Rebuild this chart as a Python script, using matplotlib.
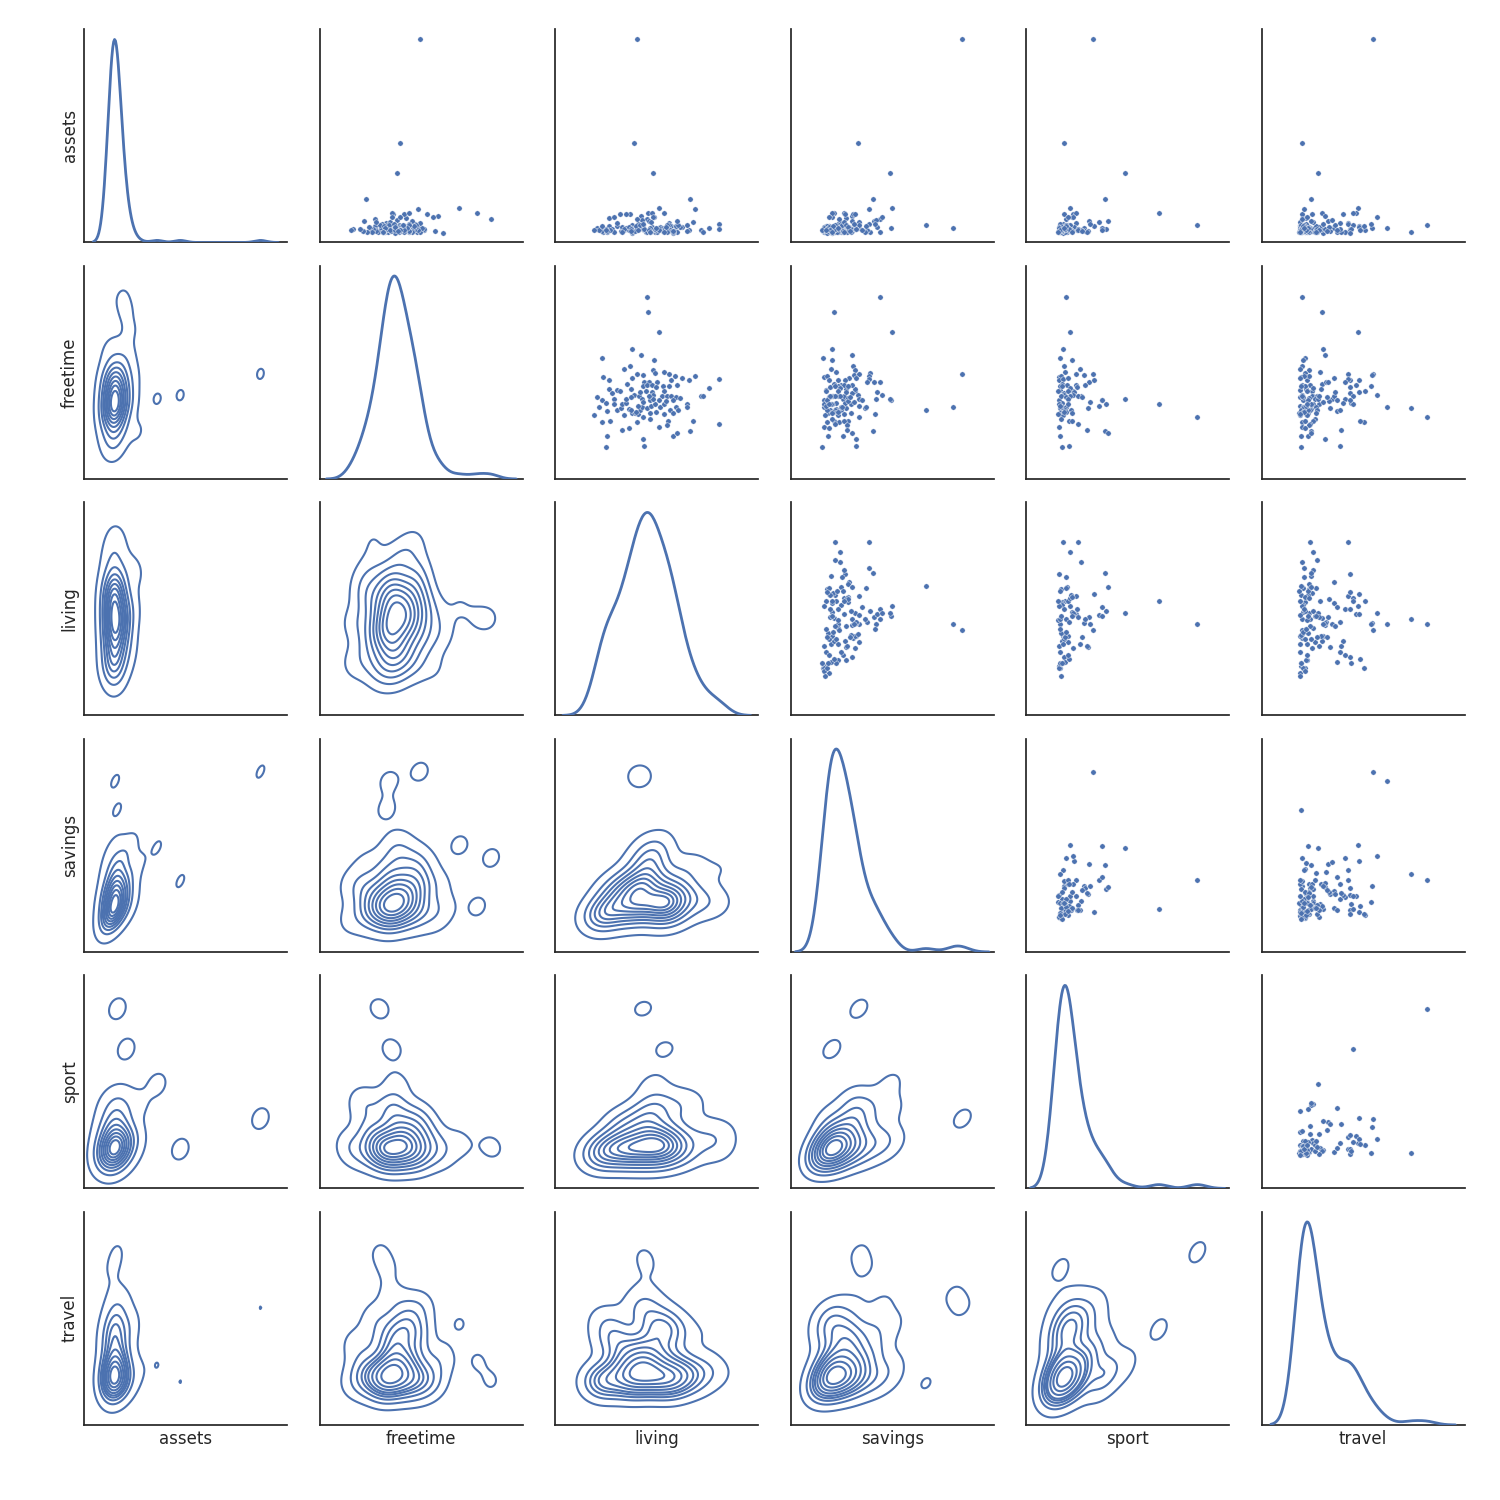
import numpy as np
import pandas as pd
import matplotlib
matplotlib.use("Agg")
import matplotlib.pyplot as plt
import seaborn as sns

nan = np.nan

# values, in % of the axis span
living = [45.5, 46.0, 51.4, 37.6, 42.5, 22.8, 48.9, 36.6, 34.0, 48.4,
          23.3, 26.4, 40.1, 43.5, 49.1, 53.7, 56.3, 59.3, 62.7, 66.2,
          69.1, 81.4, 37.6, 35.1, 44.0, 46.3, 50.1, 57.3, 60.3, 26.3,
          30.2, 31.7, 27.8, 37.4, 43.3, 45.5, 47.8, 49.9, 53.2, 56.5,
          76.5, 20.4, 22.8, 28.7, 38.6, 41.1, 42.9, 44.8, 47.6, 48.3,
          53.9, 52.9, 55.3, 57.5, 59.8, 61.7, 72.2, 73.1, 24.8, 21.3,
          25.3, 30.2, 32.2, 32.7, 35.0, 34.6, 36.1, 37.8, 39.1, 40.7,
          42.0, 43.0, 45.5, 47.3, 49.3, 51.9, 54.0, 56.7, 58.1, 58.3,
          59.8, 60.9, 65.5, 65.2, 18.9, 33.7, 22.8, 26.8, 40.1, 43.3,
          47.0, 55.8, 68.1, 81.4, 51.4, 55.3, 36.1, 32.8, 66.7, 25.1,
          58.3, 60.3, 43.5, 44.0, 24.8, 37.1, 39.6, 46.6, 48.3, 42.0,
          46.3, 43.3, 40.9, 51.2, 54.8, 49.9, 47.0, 54.0, 28.6, 37.1]

freetime = [84.7, 77.6, 68.6, 60.5, 57.8, 56.2, 55.3, 52.4, 51.0, 50.6,
            47.2, 45.8, 48.7, 48.2, 49.0, 49.6, 48.8, 47.7, 46.8, 45.8,
            47.7, 46.3, 46.8, 43.9, 44.9, 44.7, 44.9, 45.8, 43.4, 41.5,
            41.1, 40.6, 39.7, 41.5, 43.0, 43.3, 43.4, 42.5, 43.0, 43.0,
            42.0, 37.8, 36.3, 36.8, 38.7, 38.1, 37.0, 40.6, 40.4, 38.7,
            40.6, 38.2, 38.2, 38.1, 37.8, 37.3, 38.2, 38.2, 34.9, 33.0,
            31.1, 31.8, 32.7, 34.4, 34.9, 36.8, 32.1, 30.3, 30.2, 29.7,
            31.8, 33.0, 32.5, 33.6, 34.6, 33.3, 34.4, 31.8, 36.2, 30.3,
            33.0, 31.9, 34.3, 33.0, 29.2, 29.2, 25.9, 26.4, 25.9, 28.3,
            27.3, 26.4, 26.4, 25.0, 23.5, 24.5, 23.1, 22.1, 21.6, 19.7,
            19.7, 20.7, 18.3, 15.0, 14.1, 31.9, 30.6, 36.2, 37.0, 40.1,
            38.5, 35.4, 33.8, 36.2, 35.9, 31.0, 30.3, 29.9, 34.6, 37.8]

savings = [44.0, 21.3, 50.0, 20.2, 30.2, 16.0, 20.4, 30.7, 19.7, 31.7,
           16.3, 23.2, 84.4, 31.0, 39.0, 22.3, 33.7, 17.9, 28.7, 26.8,
           38.4, 38.6, 32.0, 21.5, 37.6, 41.0, 44.0, 18.7, 24.8, 27.3,
           17.2, 31.7, 30.0, 31.7, 23.2, 30.0, 26.0, 19.5, 28.0, 22.0,
           24.0, 18.7, 16.3, 25.8, 33.2, 23.0, 42.0, 23.2, 42.5, 45.0,
           17.2, 20.4, 26.0, 21.0, 19.0, 28.0, 24.0, 22.0, 22.3, 16.4,
           19.7, 24.8, 27.3, 16.3, 26.8, 33.5, 22.2, 29.7, 18.4, 41.5,
           22.0, 80.0, 36.3, 33.7, 29.7, 24.8, 20.2, 19.5, 18.0, 22.8,
           37.1, 66.5, 20.0, 25.0, 17.0, 23.0, 17.9, 21.4, 23.8, 33.5,
           20.4, 28.0, 26.0, 21.8, 16.4, 27.8, 18.9, 27.8, 40.5, 18.4,
           25.8, 30.2, 32.2, 32.0, 15.4, 18.0, 21.0, 49.4, 48.9, 27.0,
           19.5, 31.0, 17.5, 35.0, 28.0, 23.0, 20.5, 26.0, 19.0, 29.0]

travel = [19.9, 29.7, 47.0, 30.2, 31.2, 20.9, 20.4, 19.7, 18.5, 23.3,
          19.0, 22.0, 54.7, 53.9, 21.0, 28.7, 42.5, 23.0, 35.6, 43.5,
          20.5, 42.5, 18.5, 29.7, 31.7, 32.5, 41.0, 47.5, 19.5, 21.5,
          18.8, 24.5, 43.5, 29.0, 53.4, 23.6, 46.0, 43.5, 21.0, 19.0,
          25.0, 18.6, 20.0, 41.0, 19.7, 25.3, 34.2, 22.0, 47.6, 56.3,
          50.4, 35.2, 44.5, 24.8, 20.0, 23.0, 19.5, 27.0, 43.8, 21.0,
          37.1, 38.1, 33.2, 27.8, 39.6, 26.0, 24.0, 19.4, 22.5, 21.8,
          23.5, 61.2, 73.0, 18.7, 25.0, 20.2, 44.5, 22.8, 43.5, 18.4,
          26.5, 19.0, 24.0, 20.8, 18.7, 22.0, 50.0, 48.4, 19.6, 81.0,
          26.3, 21.2, 25.0, 23.8, 19.9, 23.3, 21.0, 39.0, 24.3, 19.4,
          22.6, 24.3, 31.2, 38.1, 19.2, 27.0, 20.0, 22.5, 27.6, 36.0,
          28.0, 30.0, 21.5, 37.0, 33.0, 20.5, 26.5, 18.9, 22.0, 32.0]

# most assets values sit in a thin band at the bottom and overlap
assets = [10.4, 13.1, 15.5, 3.8, 11.7, 4.6, 11.2, 12.5, 5.1, 5.5,
          4.3, 7.0, 95.6, 6.0, 4.2, 6.2, 8.5, 4.9, 6.5, 4.8,
          15.2, 7.8, 7.3, 5.6, 5.0, 9.5, 4.0, 6.8, 4.1, 10.5,
          6.8, 12.5, 5.3, 5.8, 8.0, 4.5, 13.0, 5.2, 4.6, 7.2,
          6.0, 6.0, 4.4, 4.0, 46.3, 5.5, 9.8, 4.3, 6.6, 11.0,
          5.0, 5.8, 7.5, 4.5, 7.0, 6.3, 4.8, 3.9, 5.5, 5.2,
          4.0, 8.2, 4.6, 6.4, 12.8, 5.9, 5.0, 4.2, 4.7, 7.7,
          6.1, 6.2, 4.3, 9.0, 5.3, 6.6, 13.0, 5.2, 3.7, 4.2,
          6.9, 7.4, 4.4, 7.6, 4.8, 5.7, 7.0, 5.2, 10.2, 7.6,
          4.0, 4.5, 8.8, 5.6, 6.1, 3.9, 6.4, 4.1, 19.7, 4.4,
          4.7, 9.3, 5.4, 5.4, 5.0, 5.4, 6.9, 6.0, 32.0, 7.3,
          4.9, 8.0, 4.8, 5.0, 6.6, 5.9, 3.9, 4.3, 11.0, 4.5]

sport = [19.0, nan, 21.0, 17.5, nan, 16.0, 22.0, 18.0, 26.0, nan,
         15.5, nan, 32.5, 28.3, nan, 18.5, 24.0, 16.5, nan, 15.6,
         nan, 17.9, 20.0, 17.0, nan, 30.7, nan, 33.0, 19.5, nan,
         16.2, 22.5, 18.0, nan, 16.0, 28.8, 24.2, 24.5, 17.0, nan,
         21.0, nan, 15.8, nan, 18.0, nan, nan, 15.2, 23.0, 22.6,
         20.2, 16.5, 21.2, nan, 19.0, nan, 26.5, nan, 17.2, nan,
         18.5, nan, 30.0, 15.5, nan, 20.0, 18.0, nan, 16.5, nan,
         nan, nan, 16.4, 35.9, 39.4, 17.0, 65.5, 21.5, nan, 16.0,
         nan, nan, nan, 19.0, 16.9, 17.5, nan, 20.5, nan, 84.7,
         16.9, 22.0, nan, 25.3, 15.7, nan, nan, 29.7, 38.9, 16.3,
         nan, 40.0, nan, 20.7, 17.0, 18.8, 19.3, 37.0, 48.8, nan,
         25.0, 31.2, 16.0, 37.4, nan, 18.0, 22.0, 15.4, 20.0, 27.0]

df = pd.DataFrame({
    "assets": assets,
    "freetime": freetime,
    "living": living,
    "savings": savings,
    "sport": sport,
    "travel": travel,
})

sns.set_theme(style="white")

g = sns.PairGrid(df, diag_sharey=False, height=2.5)
g.map_upper(sns.scatterplot, s=15)
g.map_lower(sns.kdeplot)
g.map_diag(sns.kdeplot, lw=2)
g.set(xticks=[], yticks=[])

g.figure.savefig("out.png", dpi=100)
